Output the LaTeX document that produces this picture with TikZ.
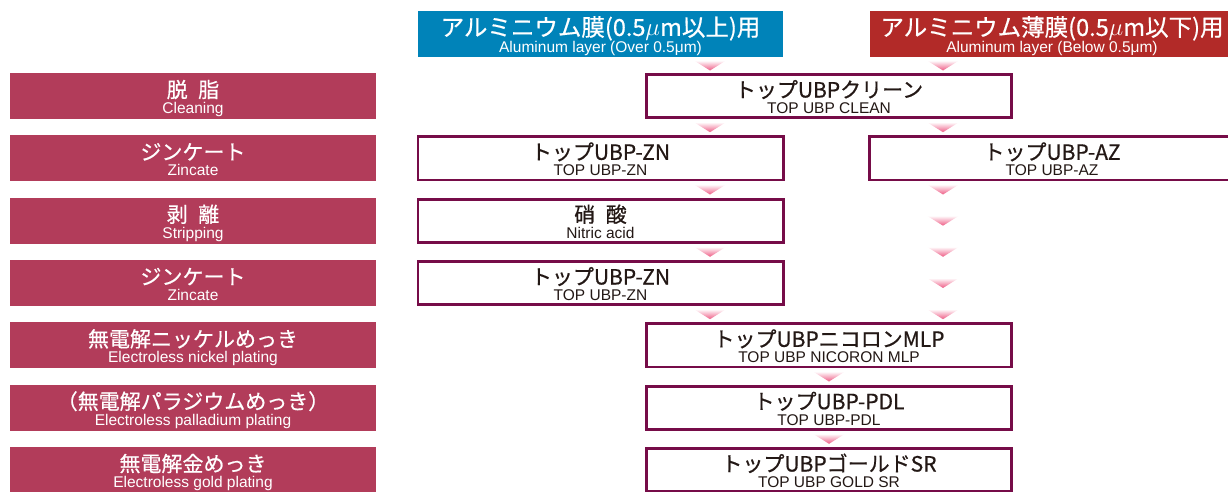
\documentclass[tikz,border=0pt]{standalone}
\usepackage{fontspec}
\setmainfont{Liberation Sans}
\newfontfamily\jpf[FakeBold=0.6]{Noto Sans CJK JP}
\usepackage{tikz}
\usetikzlibrary{calc}
\definecolor{headblue}{RGB}{0,131,185}
\definecolor{headred}{RGB}{178,42,40}
\definecolor{stagered}{RGB}{178,60,90}
\definecolor{boxline}{RGB}{118,12,72}
\definecolor{inkblack}{RGB}{35,24,21}
\definecolor{tripink}{RGB}{238,92,133}
\newcommand{\twoline}[2]{{\jpf\fontsize{21}{21}\selectfont #1}\\#2}
\newcommand{\headline}[2]{{\jpf\fontsize{23.5}{23.5}\selectfont #1}\\#2}
\tikzset{
  stage/.style={
    fill=stagered,
    text=white,
    minimum width=366pt,
    inner sep=0pt,
    text height=40.5pt,
    text depth=5.5pt,
    align=center,
    font=\fontsize{15.5}{16}\selectfont},
  chem/.style={
    draw=boxline,
    line width=2.8pt,
    fill=white,
    text=inkblack,
    minimum width=365.2pt,
    inner sep=0pt,
    text height=39.1pt,
    text depth=4.1pt,
    align=center,
    font=\fontsize{15.5}{16}\selectfont},
  head/.style={
    text=white,
    minimum width=365pt,
    inner sep=0pt,
    text height=41.5pt,
    text depth=4.5pt,
    align=center,
    font=\fontsize{15.5}{16.6}\selectfont},
  tri/.style={
    top color=white,
    bottom color=tripink,
    draw=none}
  }

\begin{document}
\begin{tikzpicture}[x=1pt,y=-1pt]
    \useasboundingbox (0,0) rectangle (1228,491);
    \clip (0,0) rectangle (1228,491);
    % headers
    \node[head,fill=headblue] (thick) at (600.5,34)
      {\headline{アルミニウム膜(0.5$\mu$m以上)用}{Aluminum layer (Over 0.5μm)}};
    \node[head,fill=headred] (thin) at (1052,34)
      {\headline{アルミニウム薄膜(0.5$\mu$m以下)用}{Aluminum layer (Below 0.5μm)}};
    % process steps
    \node[stage] (degrease) at (193,96) {\twoline{脱\hspace{0.5em}脂}{Cleaning}};
    \node[stage] (zincate1) at (193,158.3) {\twoline{ジンケート}{Zincate}};
    \node[stage] (strip) at (193,220.7) {\twoline{剥\hspace{0.5em}離}{Stripping}};
    \node[stage] (zincate2) at (193,283) {\twoline{ジンケート}{Zincate}};
    \node[stage] (nickel) at (193,345.3) {\twoline{無電解ニッケルめっき}{Electroless nickel plating}};
    \node[stage] (palladium) at (193,407.7) {\twoline{（無電解パラジウムめっき）}{Electroless palladium plating}};
    \node[stage] (gold) at (193,470) {\twoline{無電解金めっき}{Electroless gold plating}};
    % chemicals
    \node[chem] (clean) at (829,96) {\twoline{トップUBPクリーン}{TOP UBP CLEAN}};
    \node[chem] (zn1) at (600.5,158.3) {\twoline{トップUBP-ZN}{TOP UBP-ZN}};
    \node[chem] (az) at (1052,158.3) {\twoline{トップUBP-AZ}{TOP UBP-AZ}};
    \node[chem] (nitric) at (600.5,220.7) {\twoline{硝\hspace{0.5em}酸}{Nitric acid}};
    \node[chem] (zn2) at (600.5,283) {\twoline{トップUBP-ZN}{TOP UBP-ZN}};
    \node[chem] (nicoron) at (829,345.3) {\twoline{トップUBPニコロンMLP}{TOP UBP NICORON MLP}};
    \node[chem] (pdl) at (829,407.7) {\twoline{トップUBP-PDL}{TOP UBP-PDL}};
    \node[chem] (goldsr) at (829,470) {\twoline{トップUBPゴールドSR}{TOP UBP GOLD SR}};
    % flow marks
    \foreach \x/\y in {710/65.5, 710/127.2, 710/189.5, 710/251.8, 710/314.2,
                       943/65.5, 943/127.2, 943/189.5, 943/220.7, 943/251.8,
                       943/283, 943/314.2, 829/376.5, 829/438.8}
      \shade[tri] (\x-16,\y-5) -- (\x+16,\y-5) -- (\x,\y+5) -- cycle;
  \end{tikzpicture}
\end{document}
